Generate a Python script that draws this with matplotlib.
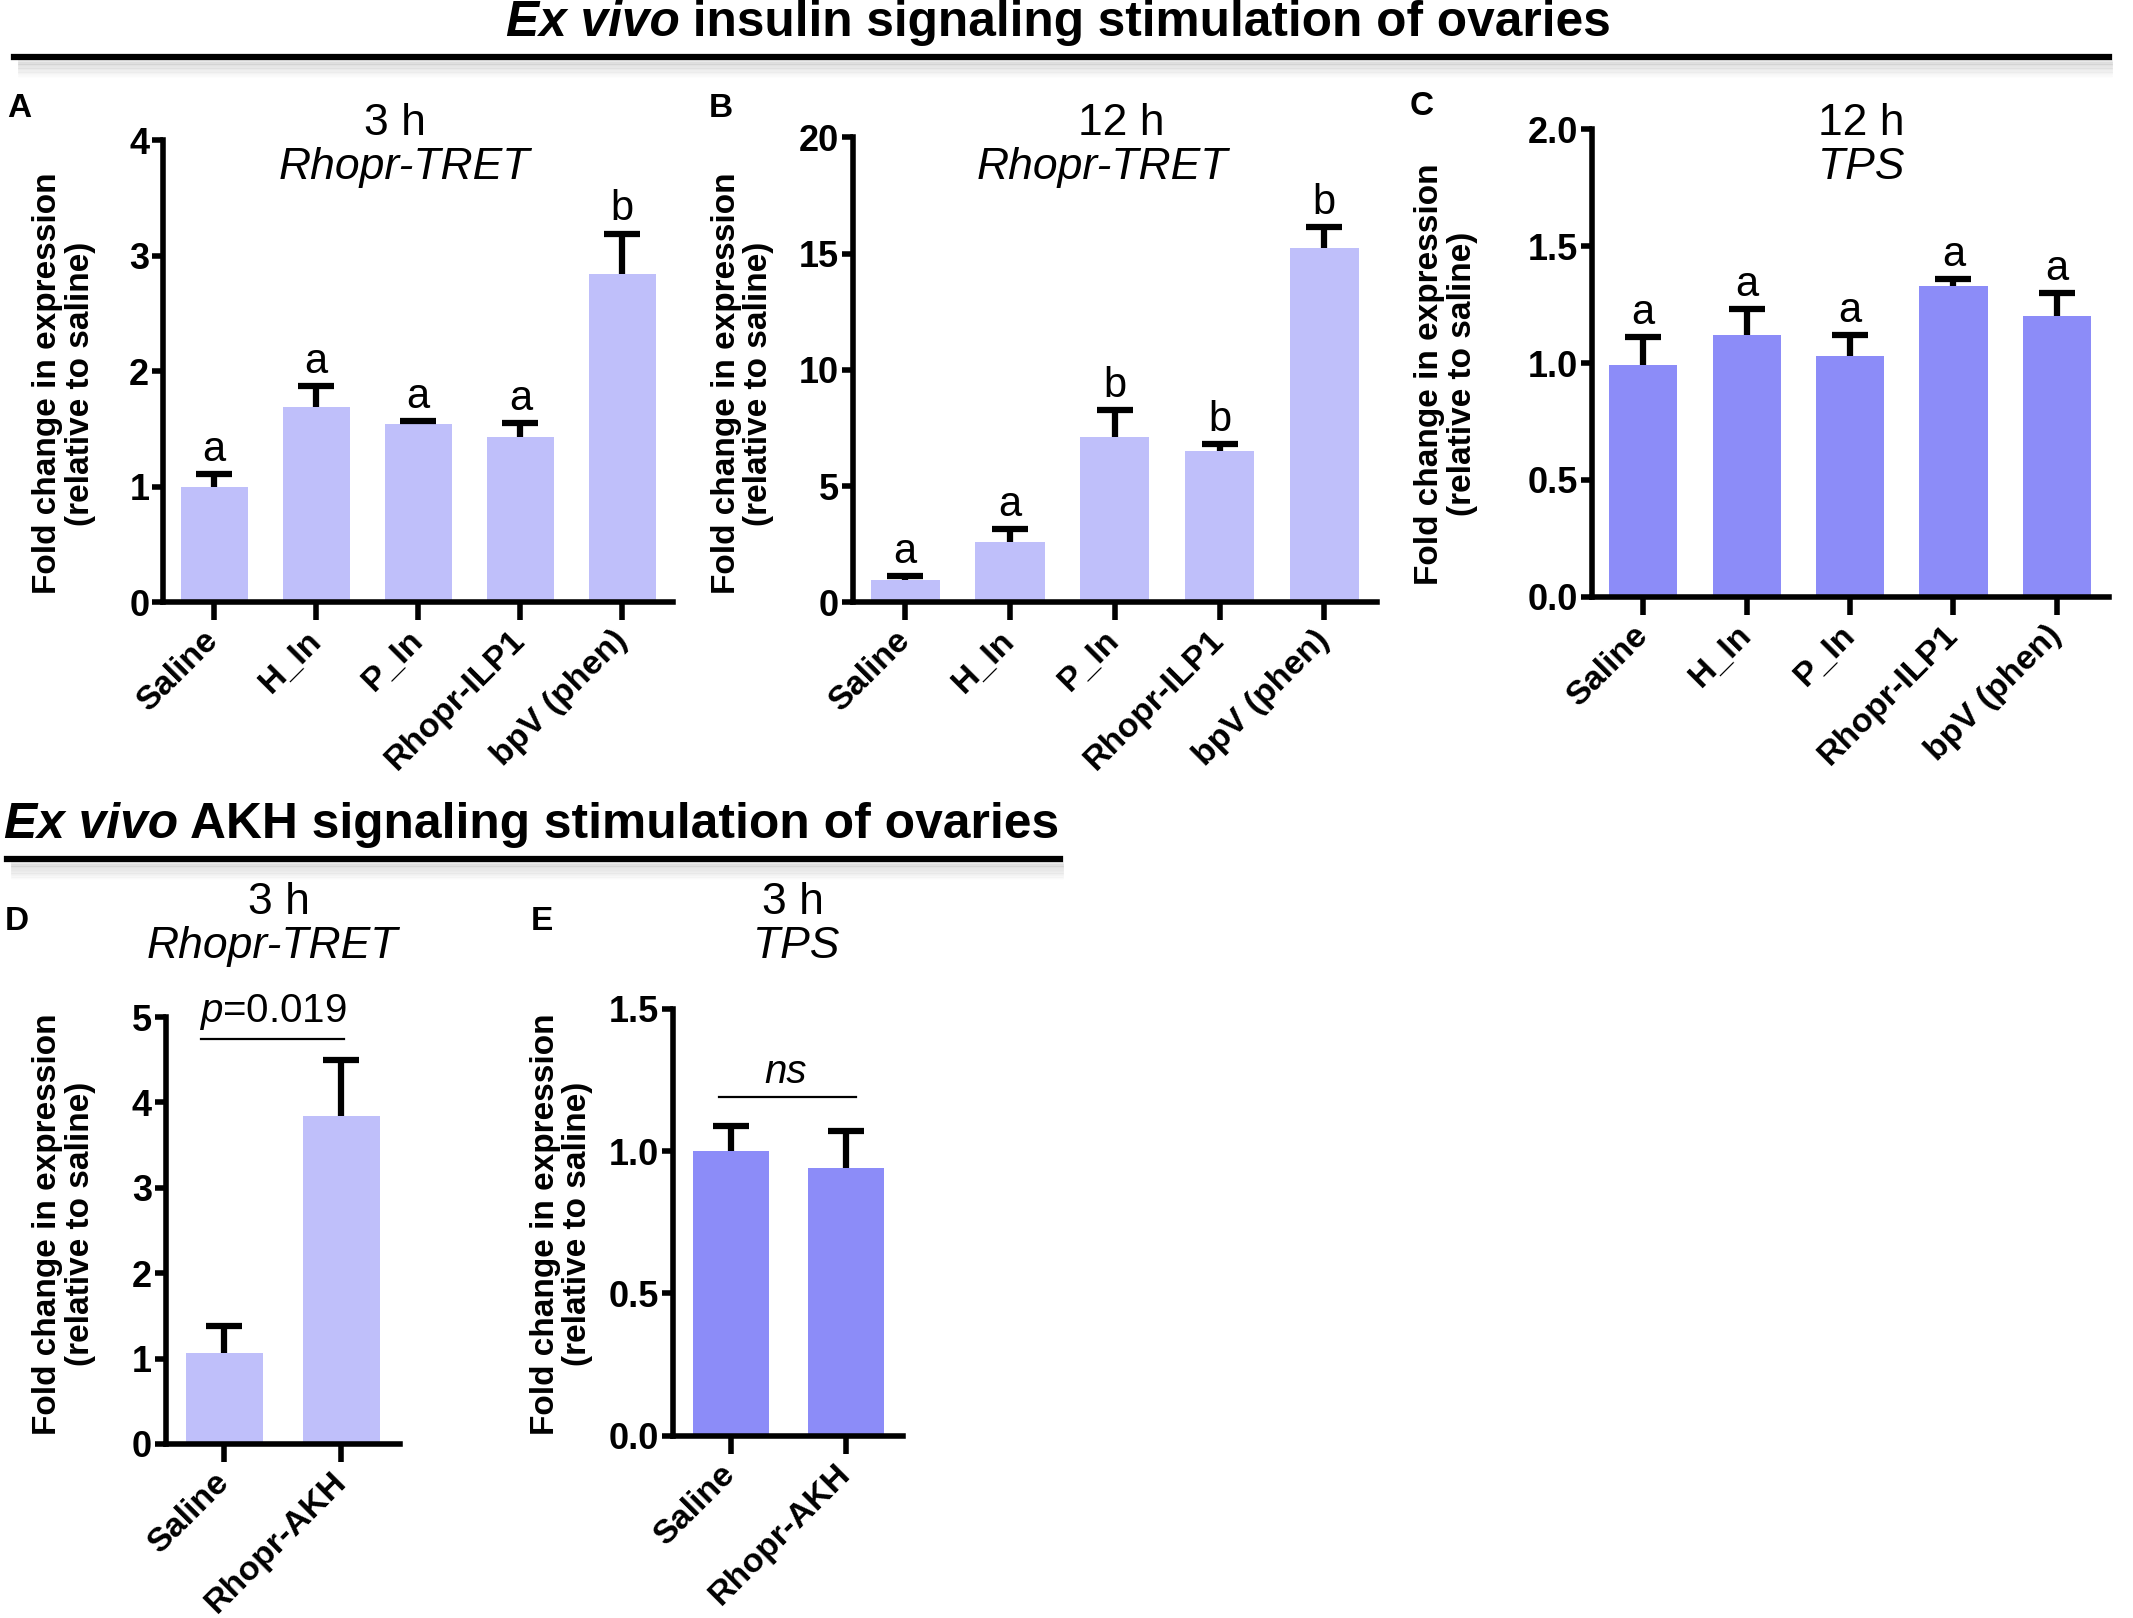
import numpy as np
import matplotlib
matplotlib.use("Agg")
import matplotlib.pyplot as plt

plt.rcParams['font.family'] = ['Liberation Sans', 'DejaVu Sans']
plt.rcParams['mathtext.fontset'] = 'custom'
plt.rcParams['mathtext.it'] = 'Liberation Sans:italic'
plt.rcParams['mathtext.rm'] = 'Liberation Sans'

# ---------------- data ----------------
groups_ins = ["Saline", "H_In", "P_In", "Rhopr-ILP1", "bpV (phen)"]
groups_akh = ["Saline", "Rhopr-AKH"]

a_mean = [1.00, 1.69, 1.54, 1.43, 2.84]
a_err = [0.11, 0.18, 0.03, 0.12, 0.35]
a_letters = ["a", "a", "a", "a", "b"]

b_mean = [0.97, 2.60, 7.12, 6.50, 15.26]
b_err = [0.17, 0.55, 1.16, 0.29, 0.87]
b_letters = ["a", "a", "b", "b", "b"]

c_mean = [0.99, 1.12, 1.03, 1.33, 1.20]
c_err = [0.12, 0.11, 0.09, 0.03, 0.10]
c_letters = ["a", "a", "a", "a", "a"]

d_mean = [1.07, 3.84]
d_err = [0.31, 0.66]

e_mean = [1.00, 0.94]
e_err = [0.09, 0.13]

light = "#bfbffa"
dark = "#8c8cf8"

# layout is measured on a 1568 x 1190 copy of the reference
W, H = 1568.0, 1190.0
def fx(x):
    return x / W
def fy(y):
    return 1 - y / H

fig = plt.figure(figsize=(21.33, 16.18), dpi=100)
renderer = fig.canvas.get_renderer()

YLAB = "Fold change in expression\n(relative to saline)"


def rich(x, y, parts, size, align="left"):
    # draw text made of pieces with different styles next to each other
    cur = x
    items = []
    for s, style in parts:
        t = fig.text(cur, y, s, fontsize=size, fontweight="bold", fontstyle=style,
                     ha="left", va="center")
        w = t.get_window_extent(renderer).width / fig.bbox.width
        items.append(t)
        cur += w
    if align == "center":
        shift = (cur - x) / 2
        for t in items:
            t.set_x(t.get_position()[0] - shift)


def header_line(x0, x1, y):
    # black rule with soft grey shadow underneath
    for k in range(12):
        fig.add_artist(plt.Line2D([fx(x0 + 4), fx(x1 + 2)], [fy(y + 3 + k), fy(y + 3 + k)],
                                  color="grey", alpha=0.16 * (1 - k / 12), lw=2))
    fig.add_artist(plt.Line2D([fx(x0), fx(x1)], [fy(y), fy(y)], color="black", lw=4.5))


def panel(rect, labels, means, errs, color, ylim, yticks, fmt, letters=None):
    l, r, t, b = rect
    ax = fig.add_axes([fx(l), fy(b), fx(r) - fx(l), fy(t) - fy(b)])
    x = np.arange(len(means))
    ax.bar(x, means, width=0.66, color=color, zorder=2)
    eb = ax.errorbar(x, means, yerr=[np.zeros(len(errs)), errs], fmt="none", ecolor="black",
                     elinewidth=4.5, capsize=13, capthick=4.5, zorder=3, clip_on=False)
    eb[1][0].set_visible(False)  # only the upper cap
    ax.set_xlim(-0.5, len(means) - 0.5)
    ax.set_ylim(*ylim)
    ax.set_yticks(yticks)
    ax.set_yticklabels([fmt.format(v) for v in yticks], fontweight="bold", fontsize=26)
    ax.set_xticks(x)
    ax.set_xticklabels(labels, rotation=45, ha="right", va="center", rotation_mode="anchor",
                       fontweight="bold", fontsize=24.5)
    for s in ["top", "right"]:
        ax.spines[s].set_visible(False)
    for s in ["left", "bottom"]:
        ax.spines[s].set_linewidth(4)
    ax.tick_params(axis="y", width=4, length=8, pad=2)
    ax.tick_params(axis="x", width=4, length=13, pad=11)
    ax.patch.set_alpha(0)
    if letters:
        for xi, m, e, lt in zip(x, means, errs, letters):
            ax.annotate(lt, (xi, m + e), xytext=(0, 3), textcoords="offset points",
                        ha="center", va="bottom", fontsize=30, annotation_clip=False)
    return ax


# ---------------- headers ----------------
rich(fx(778), fy(17), [("Ex vivo", "italic"), (" insulin signaling stimulation of ovaries", "normal")],
     35.7, align="center")
header_line(10, 1550, 42)
rich(fx(3), fy(607), [("Ex vivo", "italic"), (" AKH signaling stimulation of ovaries", "normal")], 35.8)
header_line(5, 779, 632)

# ---------------- panels ----------------
axA = panel((120, 495, 103, 443), groups_ins, a_mean, a_err, light, (0, 4), [0, 1, 2, 3, 4],
            "{:g}", a_letters)
axB = panel((627, 1012, 101, 443), groups_ins, b_mean, b_err, light, (0, 20), [0, 5, 10, 15, 20],
            "{:g}", b_letters)
axC = panel((1170, 1550, 95, 439), groups_ins, c_mean, c_err, dark, (0, 2),
            [0, 0.5, 1.0, 1.5, 2.0], "{:.1f}", c_letters)
axD = panel((122, 294, 748, 1062), groups_akh, d_mean, d_err, light, (0, 5), [0, 1, 2, 3, 4, 5],
            "{:g}")
axE = panel((495, 664, 742, 1056), groups_akh, e_mean, e_err, dark, (0, 1.5),
            [0, 0.5, 1.0, 1.5], "{:.1f}")

# significance marks
axD.plot([-0.2, 1.02], [4.74, 4.74], color="black", lw=1.6, clip_on=False)
axD.text(0.41, 4.82, r"$\mathit{p}$=0.019", ha="center", va="bottom", fontsize=29, clip_on=False)
axE.plot([-0.1, 1.09], [1.19, 1.19], color="black", lw=1.6, clip_on=False)
axE.text(0.48, 1.21, "ns", ha="center", va="bottom", fontsize=29, fontstyle="italic", clip_on=False)

# panel titles
titles = [
    (290, 297, "3 h", "Rhopr-TRET"),
    (824, 810, "12 h", "Rhopr-TRET"),
    (1368, 1368, "12 h", "TPS"),
]
for x1, x2, t1, t2 in titles:
    fig.text(fx(x1), fy(91), t1, ha="center", va="center", fontsize=32)
    fig.text(fx(x2), fy(123), t2, ha="center", va="center", fontsize=32, fontstyle="italic")
for x1, x2, t1, t2 in [(205, 200, "3 h", "Rhopr-TRET"), (583, 585, "3 h", "TPS")]:
    fig.text(fx(x1), fy(664), t1, ha="center", va="center", fontsize=32)
    fig.text(fx(x2), fy(696), t2, ha="center", va="center", fontsize=32, fontstyle="italic")

# y labels
for x, y in [(47, 282), (546, 282), (1063, 275), (47, 900), (413, 900)]:
    fig.text(fx(x), fy(y), YLAB, rotation=90, ha="center", va="center", fontsize=24,
             fontweight="bold", linespacing=1.05, multialignment="center")

# panel letters
for lt, x, y in [("A", 14, 80), ("B", 530, 80), ("C", 1045, 78), ("D", 12, 678), ("E", 398, 678)]:
    fig.text(fx(x), fy(y), lt, ha="center", va="center", fontsize=24, fontweight="bold")

fig.savefig("out.png", dpi=100)
